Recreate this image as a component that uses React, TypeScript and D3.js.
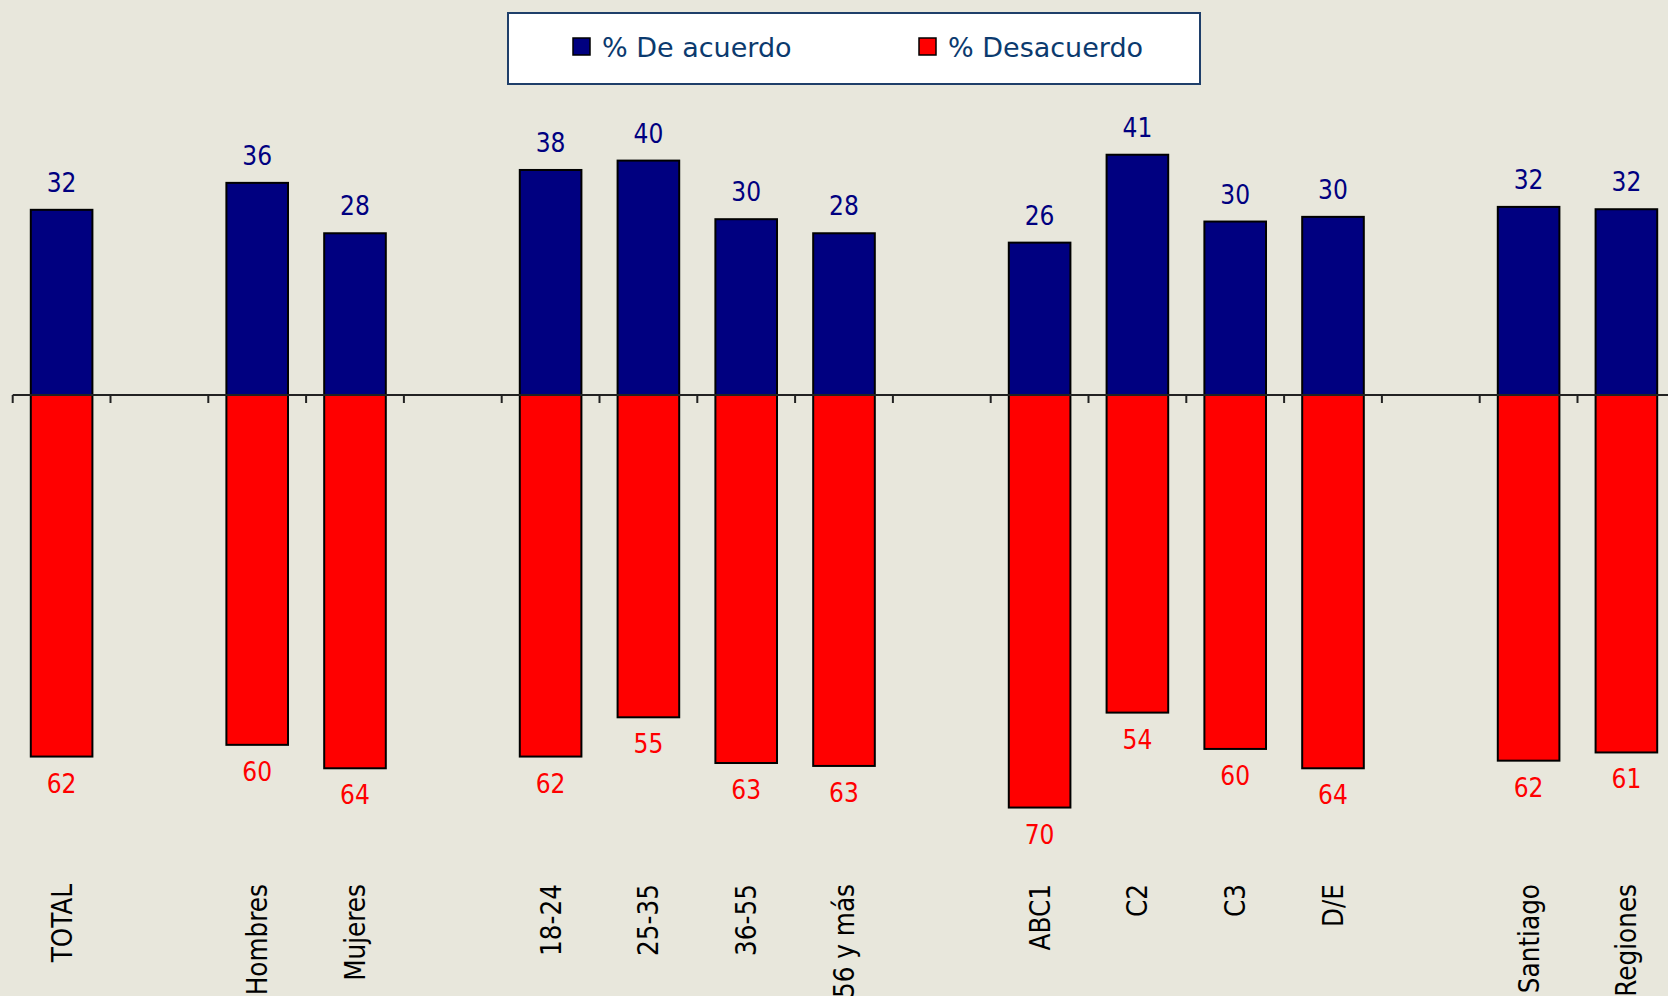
import React from "react";
import * as d3 from "d3";

const categories = [
  "TOTAL", "", "Hombres", "Mujeres", "", "18-24", "25-35", "36-55", "56 y más", "",
  "ABC1", "C2", "C3", "D/E", "", "Santiago", "Regiones",
];
// null = empty gap slot
const deAcuerdo: (number | null)[] = [
  31.6, null, 36.2, 27.6, null, 38.4, 40.0, 30.0, 27.6, null, 26.0, 41.0, 29.6, 30.4, null, 32.1, 31.7,
];
const desacuerdo: (number | null)[] = [
  61.7, null, 59.7, 63.7, null, 61.7, 55.0, 62.8, 63.3, null, 70.4, 54.2, 60.4, 63.7, null, 62.4, 61.0,
];
const seriesNames = ["% De acuerdo", "% Desacuerdo"];
const seriesColors = ["#000080", "#FF0000"];

const W = 1668;
const H = 996;
const FONT = "Tahoma, 'DejaVu Sans Condensed', 'DejaVu Sans', sans-serif";
const LEGEND_FONT = "Tahoma, 'DejaVu Sans', sans-serif";

export default function App() {
  if (typeof document !== "undefined") document.body.style.margin = "0";
  const slots = categories.map((_, i) => String(i));
  const x0 = 12.7;
  const STEP = 97.8;
  const x = d3
    .scaleBand<string>()
    .domain(slots)
    .range([x0, x0 + STEP * categories.length])
    .paddingInner(0.37)
    .paddingOuter(0.185);
  const step = x.step();
  const axisY = 395;
  const y = d3.scaleLinear().domain([0, 100]).range([axisY, axisY - 586]);
  const yNeg = d3.scaleLinear().domain([0, 100]).range([axisY, axisY + 586]);
  const fmt = d3.format(".0f");
  const bw = x.bandwidth();

  const tickXs = d3.range(categories.length + 1).map((i) => x0 + i * step);

  return (
    <svg width={W} height={H} style={{ position: "absolute", left: 0, top: 0, display: "block" }}>
      <rect x={0} y={0} width={W} height={H} fill="#E8E7DC" />
      {/* bars */}
      {slots.map((s, i) => {
        const a = deAcuerdo[i];
        const d = desacuerdo[i];
        if (a == null || d == null) return null;
        const bx = x(s)!;
        const cx = bx + bw / 2;
        return (
          <g key={s}>
            <rect x={bx} y={y(a)} width={bw} height={axisY - y(a)} fill={seriesColors[0]} stroke="#000" strokeWidth={2} />
            <rect x={bx} y={axisY} width={bw} height={yNeg(d) - axisY} fill={seriesColors[1]} stroke="#000" strokeWidth={2} />
            <text x={cx} y={y(a) - 18} textAnchor="middle" fontFamily={FONT} fontSize={26} fill="#000080">
              {fmt(a)}
            </text>
            <text x={cx} y={yNeg(d) + 36} textAnchor="middle" fontFamily={FONT} fontSize={26} fill="#FF0000">
              {fmt(d)}
            </text>
          </g>
        );
      })}
      {/* axis */}
      <line x1={x0} x2={W} y1={axisY} y2={axisY} stroke="#222" strokeWidth={2} />
      {tickXs.map((tx, i) => (
        <line key={i} x1={tx} x2={tx} y1={axisY} y2={axisY + 8} stroke="#222" strokeWidth={2} />
      ))}
      {/* category labels */}
      {slots.map((s, i) =>
        categories[i] ? (
          <text
            key={"c" + s}
            transform={`translate(${x(s)! + bw / 2},884) rotate(-90)`}
            textAnchor="end"
            dominantBaseline="central"
            fontFamily={FONT}
            fontSize={27.5}
            fill="#000"
          >
            {categories[i]}
          </text>
        ) : null
      )}
      {/* legend */}
      <rect x={508} y={13} width={692} height={71} fill="#FFFFFF" stroke="#1F3F6A" strokeWidth={2} />
      {seriesNames.map((n, i) => {
        const lx = i === 0 ? 573 : 919;
        return (
          <g key={n}>
            <rect x={lx} y={38} width={17} height={17} fill={seriesColors[i]} stroke="#000" strokeWidth={1.5} />
            <text x={lx + 29} y={57} fontFamily={LEGEND_FONT} fontSize={27} fill="#0B3A6E">
              {n}
            </text>
          </g>
        );
      })}
    </svg>
  );
}
